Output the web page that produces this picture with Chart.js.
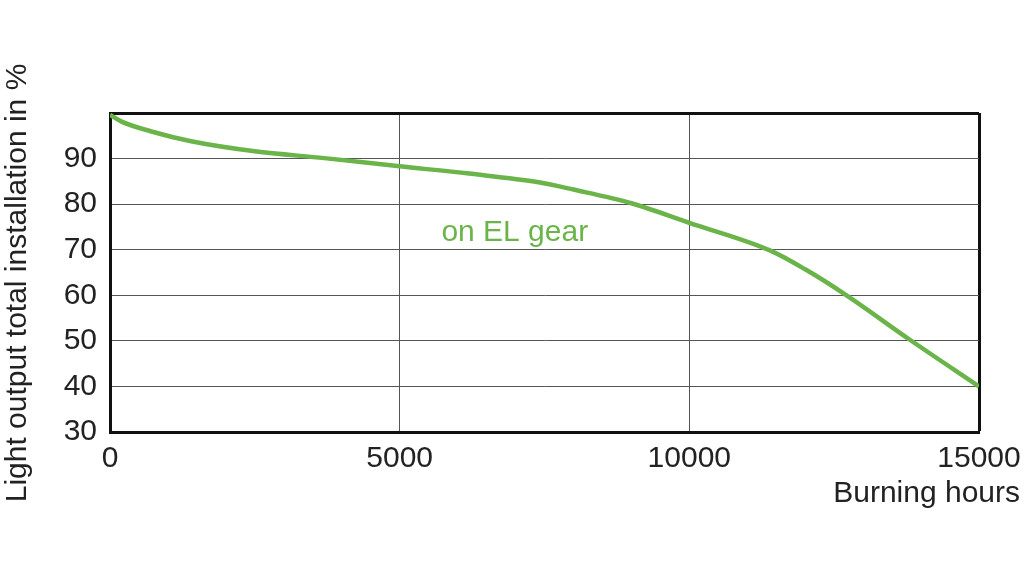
<!DOCTYPE html>
<html>
<head>
<meta charset="utf-8">
<script src="https://cdn.jsdelivr.net/npm/chart.js@4/dist/chart.umd.min.js"></script>
<style>
  html, body { margin: 0; padding: 0; background: #fff; }
  canvas { display: block; }
</style>
</head>
<body>
<canvas id="c" width="1024" height="578"></canvas>
<script>
// burning hours vs light output (%)
const hours  = [0, 200, 700, 1400, 2500, 3700, 5000, 6200, 7400, 8000, 9000, 10000, 11400, 12000, 12700, 13800, 15000]
const output = [99.6, 98.1, 96.0, 93.8, 91.6, 90.1, 88.3, 86.7, 84.8, 83.2, 80.2, 75.9, 69.8, 65.7, 60.1, 50.3, 40.0]

const xTicks = [0, 5000, 10000, 15000]
const yTicks = [30, 40, 50, 60, 70, 80, 90]

const seriesLabel = 'on EL gear'
const xTitle = 'Burning hours'
const yTitle = 'Light output total installation in %'

const green = '#6ab44a'
const font = 'Liberation Sans, Arial, sans-serif'

var labelsPlugin = {
  id: 'labels',
  afterDraw(chart) {
    let ctx = chart.ctx
    let xs = chart.scales.x
    let ys = chart.scales.y
    ctx.save()
    ctx.font = '30px ' + font
    ctx.textBaseline = 'middle'
    ctx.fillStyle = green
    ctx.textAlign = 'left'
    ctx.fillText(seriesLabel, xs.getPixelForValue(5720), ys.getPixelForValue(73.8))
    ctx.fillStyle = '#222'
    ctx.textAlign = 'right'
    ctx.fillText(xTitle, chart.width - 4, chart.chartArea.bottom + 62)
    // y title, drawn by hand so it can sit a bit lower than the area centre
    ctx.translate(18, 283)
    ctx.rotate(-Math.PI / 2)
    ctx.textAlign = 'center'
    ctx.fillText(yTitle, 0, 0)
    ctx.restore()
  }
}

function frameWidth(edge) {
  return (c) => (c.tick && c.tick.value === edge ? 3 : 1)
}
function frameColor(edge) {
  return (c) => (c.tick && c.tick.value === edge ? '#111' : '#555')
}

new Chart(document.getElementById('c'), {
  type: 'line',
  data: {
    datasets: [{
      label: seriesLabel,
      data: hours.map((h, i) => ({ x: h, y: output[i] })),
      borderColor: green,
      borderWidth: 4.5,
      pointRadius: 0,
      cubicInterpolationMode: 'monotone',
      fill: false
    }]
  },
  options: {
    responsive: false,
    animation: false,
    layout: { padding: { top: 113, right: 45, left: 0, bottom: 0 } },
    plugins: {
      legend: { display: false },
      tooltip: { enabled: false }
    },
    scales: {
      x: {
        type: 'linear',
        min: 0,
        max: 15000,
        afterBuildTicks: (s) => { s.ticks = xTicks.map(v => ({ value: v })) },
        afterFit: (s) => {
          s.height = 146
          s.paddingLeft = 0
          s.paddingRight = 0
        },
        ticks: {
          padding: 9,
          color: '#222',
          font: { family: font, size: 30 },
          maxRotation: 0,
          callback: (v) => String(v)
        },
        grid: {
          drawTicks: false,
          lineWidth: frameWidth(15000),
          color: frameColor(15000)
        },
        border: { display: true, color: '#111', width: 3 }
      },
      y: {
        min: 30,
        max: 100,
        afterBuildTicks: (s) => { s.ticks = yTicks.concat([100]).map(v => ({ value: v })) },
        afterFit: (s) => {
          s.width = 110
          s.paddingTop = 0
          s.paddingBottom = 0
        },
        ticks: {
          padding: 13,
          color: '#222',
          font: { family: font, size: 30 },
          callback: (v) => (v === 100 ? '' : String(v))
        },
        grid: {
          drawTicks: false,
          lineWidth: frameWidth(100),
          color: frameColor(100)
        },
        border: { display: true, color: '#111', width: 3 }
      }
    }
  },
  plugins: [labelsPlugin]
})
</script>
</body>
</html>
